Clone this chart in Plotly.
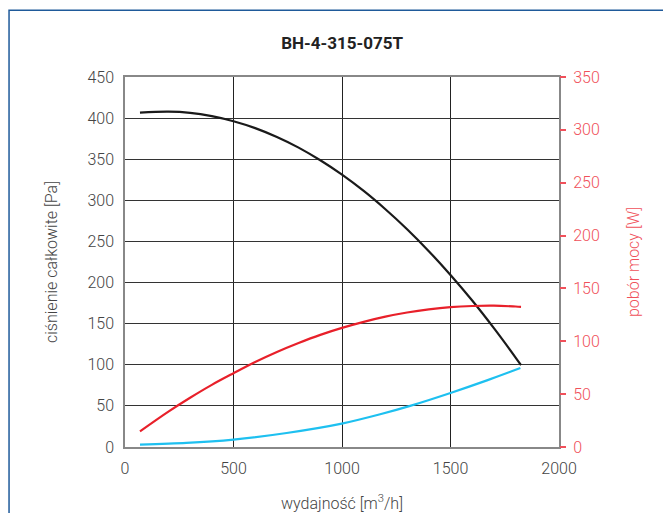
import plotly.graph_objects as go

# pressure curve [Pa]
flow_p = [69, 200, 300, 400, 500, 600, 700, 800, 900, 1000, 1100, 1200, 1300, 1400, 1500, 1600, 1700, 1800, 1825]
pressure = [406.7, 407.8, 406.4, 402.4, 396.2, 387.8, 377.0, 364.1, 348.7, 331.2, 311.4, 289.2, 264.9, 238.2, 209.2, 178.1, 144.5, 108.8, 99.5]

# power curve [W] (right axis)
flow_w = [69, 200, 300, 400, 500, 600, 700, 800, 900, 1000, 1100, 1200, 1300, 1400, 1500, 1600, 1700, 1800, 1825]
power = [14.8, 33.5, 46.6, 58.8, 69.8, 80.4, 89.9, 98.4, 106.1, 112.7, 118.4, 123.3, 127.2, 130.2, 132.3, 133.4, 133.7, 132.9, 132.6]

# blue curve (left axis scale)
flow_b = [69, 283, 500, 745, 999, 1176, 1314, 1500, 1668, 1822]
blue_vals = [2.9, 4.9, 9.0, 17.0, 28.4, 39.8, 50.0, 65.7, 81.0, 96.0]

title_text = "BH-4-315-075T"
x_title = "wydajność [m<sup>3</sup>/h]"
y_title = "ciśnienie całkowite [Pa]"
y2_title = "pobór mocy [W]"

FONT = "Roboto"
RED = "#e8202a"
RED_TXT = "#f0505a"

fig = go.Figure()
fig.add_trace(go.Scatter(x=flow_p, y=pressure, mode="lines",
                         line=dict(color="#1a1a1a", width=2.2, shape="spline", smoothing=1.0), showlegend=False))
fig.add_trace(go.Scatter(x=flow_b, y=blue_vals, mode="lines",
                         line=dict(color="#1ec0f0", width=2.2, shape="spline", smoothing=0.8), showlegend=False))
fig.add_trace(go.Scatter(x=flow_w, y=power, mode="lines", yaxis="y2",
                         line=dict(color=RED, width=2.2, shape="spline", smoothing=1.0), showlegend=False))

fig.update_layout(
    width=663, height=513,
    margin=dict(l=125, r=104, t=77, b=66, autoexpand=False),
    paper_bgcolor="white", plot_bgcolor="white",
    title=dict(text="<b>" + title_text + "</b>", x=0.516, xanchor="center", y=1 - 43/513, yanchor="middle",
               font=dict(family=FONT, size=17, color="#222")),
    xaxis=dict(range=[0, 2000], dtick=500, tick0=0, showgrid=True, gridcolor="#222", gridwidth=1,
               zeroline=False, showline=True, linecolor="#888", linewidth=1.5, mirror=True,
               ticks="", ticklabelstandoff=6, automargin=False,
               tickfont=dict(family=FONT, size=16, color="#444", weight=300),
               title=dict(text=x_title, font=dict(family=FONT, size=16, color="#444", weight=300), standoff=22)),
    yaxis=dict(range=[0, 450], dtick=50, tick0=0, showgrid=True, gridcolor="#333", gridwidth=1,
               zeroline=False, showline=True, linecolor="#888", linewidth=1.5, mirror=True,
               ticks="", ticklabelstandoff=6, automargin=False,
               tickfont=dict(family=FONT, size=16, color="#444", weight=300),
               title=dict(text=y_title, font=dict(family=FONT, size=16, color="#444", weight=300), standoff=26)),
    yaxis2=dict(range=[0, 350], dtick=50, tick0=0, overlaying="y", side="right", showgrid=False,
                zeroline=False, showline=False, ticks="outside", ticklen=6, tickcolor=RED_TXT, tickwidth=1.5,
                ticklabelstandoff=4, automargin=False,
                tickfont=dict(family=FONT, size=16, color=RED_TXT, weight=300),
                title=dict(text=y2_title, font=dict(family=FONT, size=16, color=RED_TXT, weight=300), standoff=28)),
    shapes=[dict(type="rect", xref="paper", yref="paper",
                 x0=(9.5 - 125.3) / 433.4, x1=2.0, y0=-2.0, y1=(446.7 - 10) / 370,
                 line=dict(color="#1f5a9a", width=1.5), fillcolor="rgba(0,0,0,0)", layer="below")],
)

fig.write_html("out.html")
